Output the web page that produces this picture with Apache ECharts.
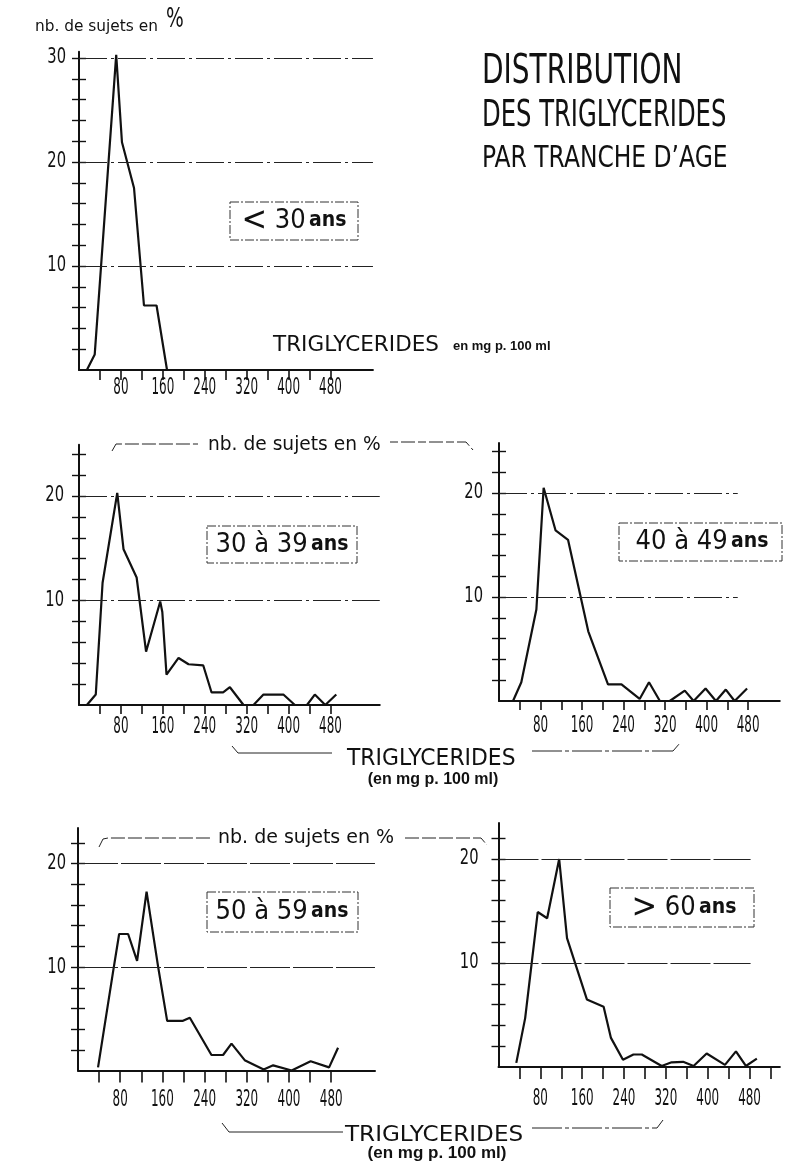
<!DOCTYPE html>
<html><head><meta charset="utf-8">
<script src="https://cdn.jsdelivr.net/npm/echarts@6/dist/echarts.min.js"></script>
<style>html,body{margin:0;padding:0;background:#fff}#c{width:786px;height:1170px}</style>
</head><body><div id="c"></div>
<script>
// ---------- data (triglycerides in mg / 100 ml, % of subjects) ----------
const p1X = [15, 30, 71, 82, 105, 124, 148, 168];
const p1Y = [0, 1.5, 30.3, 21.9, 17.5, 6.2, 6.2, 0];

const p2X = [15, 32, 45, 73, 85, 110, 128, 155, 159, 167, 190, 209, 237, 253, 275, 288, 314, 333, 352, 390, 412, 435, 450, 470, 491];
const p2Y = [0, 1, 11.7, 20.3, 14.9, 12.2, 5.1, 9.9, 8.9, 2.9, 4.5, 3.9, 3.8, 1.2, 1.2, 1.7, 0, 0, 1, 1, 0, 0, 1, 0, 1];

const p3X = [27, 43, 72, 86, 109, 133, 172, 210, 236, 271, 289, 310, 329, 358, 375, 398, 418, 437, 454, 478];
const p3Y = [0, 1.8, 8.8, 20.5, 16.4, 15.5, 6.7, 1.6, 1.6, 0.2, 1.8, 0, 0, 1, 0, 1.2, 0, 1.1, 0, 1.2];

const p4X = [38, 66, 78, 95, 112, 130, 152, 169, 199, 212, 253, 275, 291, 316, 352, 370, 405, 441, 476, 493];
const p4Y = [0.3, 9.4, 13.2, 13.2, 10.6, 17.3, 10, 4.8, 4.8, 5.1, 1.5, 1.5, 2.6, 1, 0.1, 0.5, 0, 0.9, 0.3, 2.2];

const p5X = [34, 51, 75, 93, 116, 131, 169, 201, 215, 238, 258, 274, 312, 331, 353, 373, 398, 433, 454, 473, 494];
const p5Y = [0.4, 4.7, 14.9, 14.3, 20, 12.4, 6.5, 5.8, 2.8, 0.7, 1.2, 1.2, 0.1, 0.45, 0.5, 0.1, 1.3, 0.2, 1.5, 0.1, 0.8];

// ---------- ticks / labels ----------
const xTicks = [40, 80, 120, 160, 200, 240, 280, 320, 360, 400, 440, 480];
const xTicksLong = [40, 80, 120, 160, 200, 240, 280, 320, 360, 400, 440, 480, 520];
const xLabels = [80, 160, 240, 320, 400, 480];
const yTicks30 = [2, 4, 6, 8, 10, 12, 14, 16, 18, 20, 22, 24, 26, 28, 30];
const yTicks24 = [2, 4, 6, 8, 10, 12, 14, 16, 18, 20, 22, 24];
const yTicks22 = [2, 4, 6, 8, 10, 12, 14, 16, 18, 20, 22];
const yLabels30 = [10, 20, 30];
const yLabels20 = [10, 20];

const FONT = "'DejaVu Sans Condensed','DejaVu Sans',sans-serif";
const INK = '#111';

// layout per panel (pixels)
const panels = [
  { x: p1X, y: p1Y, left: 79, y0: 370, pxX: 0.524, pxY: 10.4, xmax: 561, ymax: 30.6, xt: xTicks, yt: yTicks30, yl: yLabels30, gEnd: 561, tickLen: 10, xo: 18, ym: 13, dash: [28, 4, 3, 4] },
  { x: p2X, y: p2Y, left: 79, y0: 705, pxX: 0.524, pxY: 10.45, xmax: 574, ymax: 24.9, xt: xTicks, yt: yTicks24, yl: yLabels20, gEnd: 574, tickLen: 9, xo: 22, ym: 15, dash: [28, 4, 3, 4] },
  { x: p3X, y: p3Y, left: 499, y0: 701, pxX: 0.519, pxY: 10.4, xmax: 541, ymax: 24.8, xt: xTicks, yt: yTicks24, yl: yLabels20, gEnd: 460, tickLen: 9, xo: 25, ym: 16, dash: [28, 4, 3, 4] },
  { x: p4X, y: p4Y, left: 78, y0: 1070.5, pxX: 0.5275, pxY: 10.34, xmax: 563, ymax: 23.45, xt: xTicks, yt: yTicks22, yl: yLabels20, gEnd: 563, tickLen: 12, xo: 30, ym: 12, dash: [40, 3] },
  { x: p5X, y: p5Y, left: 498.5, y0: 1067, pxX: 0.523, pxY: 10.4, xmax: 538, ymax: 23.46, xt: xTicksLong, yt: yTicks22, yl: yLabels20, gEnd: 482, tickLen: 12, xo: 32, ym: 20, dash: [40, 3] }
];

const grid = [], xAxis = [], yAxis = [], series = [];
panels.forEach((p, i) => {
  const h = p.ymax * p.pxY;
  grid.push({ left: p.left, top: p.y0 - h, width: p.xmax * p.pxX, height: h, containLabel: false });
  xAxis.push({
    type: 'value', gridIndex: i, min: 0, max: p.xmax,
    axisLine: { show: true, lineStyle: { color: INK, width: 2 } },
    axisTick: { show: true, customValues: p.xt, length: p.tickLen, lineStyle: { color: INK, width: 1.6 } },
    axisLabel: { show: false },
    splitLine: { show: false }
  });
  yAxis.push({
    type: 'value', gridIndex: i, min: 0, max: p.ymax, position: 'left',
    axisLine: { show: true, lineStyle: { color: INK, width: 2 } },
    axisTick: { show: true, customValues: p.yt, length: 7, lineStyle: { color: INK, width: 1.4 } },
    axisLabel: { show: false },
    splitLine: { show: false }
  });
  yAxis.push({
    type: 'value', gridIndex: i, min: 0, max: p.ymax, position: 'left', offset: 0,
    axisLine: { show: false },
    axisTick: { show: true, inside: true, customValues: p.yt, length: 7, lineStyle: { color: INK, width: 1.4 } },
    axisLabel: { show: false },
    splitLine: { show: false }
  });
  series.push({
    type: 'line', xAxisIndex: i, yAxisIndex: i * 2,
    data: p.x.map((v, k) => [v, p.y[k]]),
    symbol: 'none', smooth: false,
    lineStyle: { color: INK, width: 2.2 },
    markLine: {
      silent: true, symbol: 'none', label: { show: false },
      lineStyle: { color: '#222', width: 1, type: p.dash },
      data: p.yl.map(v => [{ coord: [0, v] }, { coord: [p.gEnd, v] }])
    }
  });
});

function t(x, y, text, size, sx, extra) {
  return {
    type: 'text', x: x, y: y, scaleX: sx || 1,
    style: Object.assign({ text: text, fontSize: size, fontFamily: 'DejaVu Sans', fill: INK, verticalAlign: 'middle', align: 'left' }, extra || {})
  };
}
function box(x, y, w, h) {
  return { type: 'rect', shape: { x: x, y: y, width: w, height: h }, style: { fill: 'none', stroke: '#333', lineWidth: 1, lineDash: [9, 2, 2, 2] } };
}
function boxText(cx, cy, head, big) {
  return {
    type: 'text', x: cx, y: cy,
    style: {
      text: (big ? '{a|' + big + '}' : '') + '{d|' + head + '} {s|ans}',
      align: 'center', verticalAlign: 'middle', fill: INK,
      rich: {
        a: { fontSize: 34, fontFamily: FONT, fill: INK },
        d: { fontSize: 27, fontFamily: FONT, fill: INK },
        s: { fontSize: 21, fontFamily: FONT, fontWeight: 'bold', fill: INK }
      }
    }
  };
}
function line(pts, dash) {
  return { type: 'polyline', shape: { points: pts }, style: { stroke: '#222', lineWidth: 1, fill: 'none', lineDash: dash || null } };
}
const BOLD = { fontFamily: "'Liberation Sans',Arial,sans-serif", fontWeight: 'bold' };

const graphic = [
  // top-left axis name
  t(35, 27, 'nb. de sujets en', 16, 0.96),
  t(166, 20, '%', 26, 0.72),
  // title
  t(482, 72.5, 'DISTRIBUTION', 40, 0.70),
  t(482, 116.5, 'DES TRIGLYCERIDES', 37, 0.656),
  t(482, 159, 'PAR TRANCHE D\u2019AGE', 30, 0.78),
  // panel 1 x name
  t(273, 345.5, 'TRIGLYCERIDES', 20.5, 1.05),
  t(453, 346, 'en mg p. 100 ml', 13, 1, BOLD),
  // boxes
  box(230, 202, 128, 38), boxText(294, 221, ' 30', '<'),
  box(207, 526, 150, 37), boxText(282, 545, '30 à 39'),
  box(619, 523, 163, 38), boxText(702, 542, '40 à 49'),
  box(207, 892, 151, 40), boxText(282, 912, '50 à 59'),
  box(610, 888, 144, 39), boxText(684, 908, ' 60', '>'),
  // middle y name with bracket
  t(208, 445.5, 'nb. de sujets en %', 19, 0.98),
  line([[112, 451], [116, 444], [198, 444]], [14, 3]),
  line([[390, 442], [466, 442], [473, 450]], [8, 3, 14, 3]),
  // middle x name with bracket
  t(347, 759.5, 'TRIGLYCERIDES', 23, 0.95),
  t(433, 779.5, '(en mg p. 100 ml)', 16, 1, Object.assign({}, BOLD, { align: 'center' })),
  line([[232, 746], [238, 753], [332, 753]]),
  line([[532, 751], [673, 751], [680, 743]], [30, 3, 4, 3]),
  // bottom y name with bracket
  t(218, 838.5, 'nb. de sujets en %', 19, 1.0),
  line([[99, 847], [103, 839], [108, 838], [212, 838]], [14, 3]),
  line([[405, 838], [481, 838], [487, 845]], [14, 3]),
  // bottom x name with bracket
  t(345, 1135, 'TRIGLYCERIDES', 22, 1.05),
  t(437, 1153.5, '(en mg p. 100 ml)', 17, 1, Object.assign({}, BOLD, { align: 'center' })),
  line([[222, 1123], [229, 1132], [343, 1132]]),
  line([[532, 1128], [657, 1128], [663, 1120]], [30, 3, 4, 3])
];

const chart = echarts.init(document.getElementById('c'), null, { renderer: 'canvas' });
chart.setOption({
  animation: false,
  backgroundColor: '#fff',
  grid: grid, xAxis: xAxis, yAxis: yAxis, series: series, graphic: graphic
});

// tick labels: placed through the axes' own scales, drawn in narrow lettering
const labels = [];
panels.forEach((p, i) => {
  const finder = { xAxisIndex: i, yAxisIndex: i * 2 };
  xLabels.forEach(v => {
    const pt = chart.convertToPixel(finder, [v, 0]);
    labels.push({
      type: 'text', x: pt[0], y: pt[1] + p.xo, scaleX: 0.52,
      style: { text: String(v), fontSize: 23, fontFamily: 'DejaVu Sans', fill: INK, align: 'center', verticalAlign: 'middle' }
    });
  });
  p.yl.forEach(v => {
    const pt = chart.convertToPixel(finder, [0, v]);
    labels.push({
      type: 'text', x: pt[0] - p.ym, y: pt[1], scaleX: 0.7,
      style: { text: String(v), fontSize: 21, fontFamily: 'DejaVu Sans', fill: INK, align: 'right', verticalAlign: 'middle' }
    });
  });
});
chart.setOption({ graphic: graphic.concat(labels) });
</script></body></html>
